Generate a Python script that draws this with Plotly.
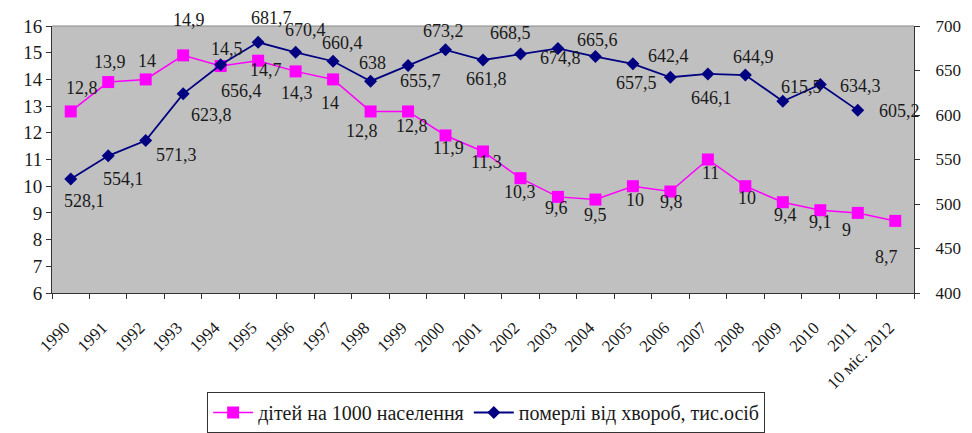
import plotly.graph_objects as go

categories = ["1990", "1991", "1992", "1993", "1994", "1995", "1996", "1997", "1998", "1999",
              "2000", "2001", "2002", "2003", "2004", "2005", "2006", "2007", "2008", "2009",
              "2010", "2011", "10 міс. 2012"]
births = [12.8, 13.9, 14, 14.9, 14.5, 14.7, 14.3, 14, 12.8, 12.8, 11.9, 11.3, 10.3, 9.6, 9.5,
          10, 9.8, 11, 10, 9.4, 9.1, 9, 8.7]
deaths = [528.1, 554.1, 571.3, 623.8, 656.4, 681.7, 670.4, 660.4, 638, 655.7, 673.2, 661.8,
          668.5, 674.8, 665.6, 657.5, 642.4, 646.1, 644.9, 615.5, 634.3, 605.2]

name_births = "дітей на 1000 населення"
name_deaths = "померлі від хвороб, тис.осіб"

# label offsets in pixels (dx, dy with dy positive = downward)
births_off = [(11, -23), (2, -20), (1, -18), (6, -35), (6, -17), (8, 9), (1, 22), (-3, 24),
              (-9, 20), (4, 15), (3, 13), (3, 11), (0, 14), (-1, 11), (0, 15), (2, 14),
              (1, 10), (3, 13), (2, 12), (3, 13), (0, 12), (-11, 17), (-9, 36)]
deaths_off = [(14, 22), (15, 23), (31, 14), (28, 21), (21, 26), (13, -24), (10, -22), (9, -18),
              (2, -18), (12, 16), (-2, -19), (3, 19), (-10, -21), (3, 10), (2, -17), (4, 19),
              (-2, -21), (4, 24), (8, -18), (19, -14), (40, 2), (42, 1)]

def fmt(v):
    return ("%g" % v).replace(".", ",")

FONT = "'Times New Roman', 'Liberation Serif', 'DejaVu Serif', serif"
LABEL_FONT = dict(family=FONT, size=18, color="#1a1a1a")

fig = go.Figure()
fig.add_trace(go.Scatter(
    x=categories, y=births, name=name_births, mode="lines+markers",
    line=dict(color="#ff00ff", width=1.5),
    marker=dict(symbol="square", size=12, color="#ff00ff"),
    cliponaxis=False,
))
fig.add_trace(go.Scatter(
    x=categories[:len(deaths)], y=deaths, name=name_deaths, mode="lines+markers",
    yaxis="y2",
    line=dict(color="#000080", width=1.8),
    marker=dict(symbol="diamond", size=10, color="#000080"),
    cliponaxis=False,
))

annotations = []
for i, (v, (dx, dy)) in enumerate(zip(births, births_off)):
    annotations.append(dict(x=i, y=v, xref="x", yref="y", text=fmt(v), showarrow=False,
                            xshift=dx, yshift=-dy, font=LABEL_FONT))
for i, (v, (dx, dy)) in enumerate(zip(deaths, deaths_off)):
    annotations.append(dict(x=i, y=v, xref="x", yref="y2", text=fmt(v), showarrow=False,
                            xshift=dx, yshift=-dy, font=LABEL_FONT))

fig.update_layout(
    width=964, height=425,
    margin=dict(l=44, r=58, t=18, b=140, autoexpand=False),
    paper_bgcolor="white", plot_bgcolor="#c0c0c0",
    font=dict(family=FONT, size=16, color="#1a1a1a"),
    showlegend=True,
    legend=dict(orientation="h", x=0.496, xanchor="center", xref="container",
                y=0.0, yanchor="bottom", yref="container",
                bordercolor="#333333", borderwidth=1, font=dict(family=FONT, size=20),
                bgcolor="white", itemwidth=40),
    xaxis=dict(type="category", categoryarray=categories, showgrid=False,
               showline=True, linecolor="#333333", linewidth=1,
               ticks="outside", ticklen=5, tickson="boundaries", tickcolor="#333333",
               tickangle=-45, tickfont=dict(family=FONT, size=17),
               ticklabelstandoff=17, ticklabelshift=-6,
               range=[-0.5, len(categories) - 0.5]),
    yaxis=dict(range=[6, 16], dtick=1, showgrid=False, zeroline=False,
               showline=True, linecolor="#333333", linewidth=1,
               ticks="outside", ticklen=5, tickcolor="#333333",
               tickfont=dict(family=FONT, size=19)),
    yaxis2=dict(range=[400, 700], dtick=50, overlaying="y", side="right", showgrid=False,
                zeroline=False, showline=True, linecolor="#333333", linewidth=1,
                ticks="outside", ticklen=5, tickcolor="#333333",
                tickfont=dict(family=FONT, size=17), ticklabelstandoff=12),
    annotations=annotations,
    shapes=[dict(type="line", xref="paper", yref="paper", x0=0, x1=1, y0=1, y1=1,
                 line=dict(color="#888888", width=1))],
)

fig.write_html("out.html")
